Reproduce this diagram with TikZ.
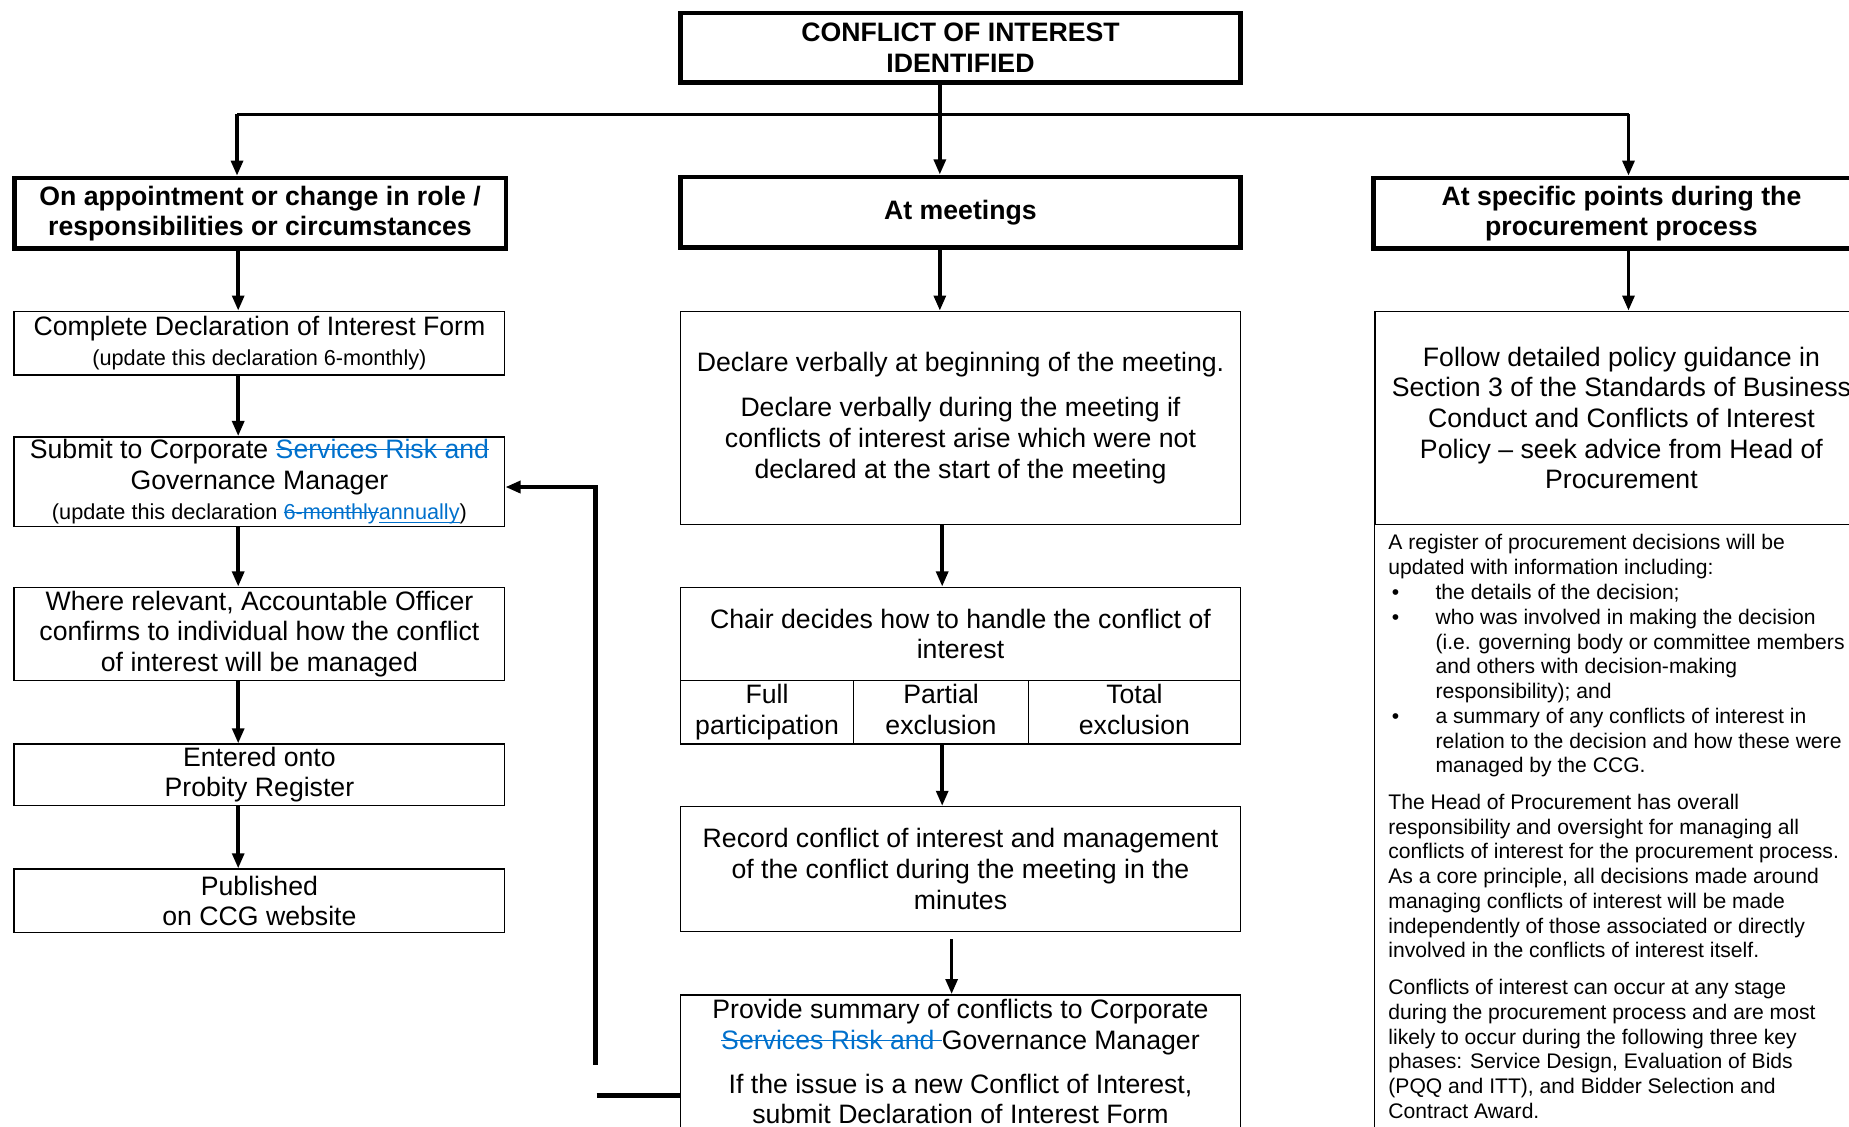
\documentclass[tikz,border=0pt]{standalone}
\usepackage{fontspec}
\setmainfont{Liberation Sans}
\usetikzlibrary{arrows.meta,calc,positioning}

\definecolor{editblue}{RGB}{0,112,204}
\newcommand{\boxfont}{\fontsize{11.3}{13}\selectfont}
\newcommand{\notefont}{\fontsize{9.2}{10.5}\selectfont}
\newcommand{\regfont}{\fontsize{8.95}{10.5}\selectfont}
\newlength{\editw}
\newcommand{\struck}[1]{\settowidth{\editw}{#1}{\color{editblue}\rlap{\rule[0.3em]{\editw}{0.5pt}}#1}}
\newcommand{\added}[1]{\settowidth{\editw}{#1}{\color{editblue}\rlap{\rule[-0.16em]{\editw}{0.5pt}}#1}}
\newcommand{\bitem}{\makebox[20pt][l]{\hspace{1.5pt}\textbullet}}
\newcommand{\bcont}{\hspace*{20pt}}

\tikzset{
  box/.style={draw, line width=0.6pt, align=center, inner sep=1pt, font=\boxfont},
  headbox/.style={box, line width=2pt, font=\boxfont\bfseries},
  flow/.style={line width=1.5pt, -{Triangle[width=5pt,length=6.4pt]}},
  bar/.style={line width=1.5pt},
}

\begin{document}
\begin{tikzpicture}[x=0.5pt,y=-0.5pt]
\useasboundingbox (0,0) rectangle (1568,955);

\node (title) [headbox, minimum width=237.5pt, minimum height=29.5pt] at (814.5,40.5) {CONFLICT OF INTEREST\\IDENTIFIED};

\node (appoint) [headbox, minimum width=208.5pt, minimum height=30pt] at (220.5,181) {On appointment or change in role /\\responsibilities or circumstances};
\node (meet) [headbox, minimum width=237.5pt, minimum height=30pt] at (814.5,180) {At meetings};
\node (proc) [headbox, minimum width=210pt, minimum height=30pt] at (1375,181) {At specific points during the\\procurement process};

% left column
\node (complete) [box, minimum width=208pt, minimum height=27pt] at (220,291) {Complete Declaration of Interest Form\\{\notefont (update this declaration 6-monthly)}};
\node (submit) [box, minimum width=208pt, minimum height=36.5pt] at (220,408.5) {Submit to Corporate \struck{Services Risk and}\\Governance Manager\\{\notefont (update this declaration \struck{6-monthly}\added{annually})}};
\node (where) [box, minimum width=208pt, minimum height=39.5pt] at (220,537.5) {Where relevant, Accountable Officer\\confirms to individual how the conflict\\of interest will be managed};
\node (entered) [box, minimum width=208pt, minimum height=26pt] at (220,657) {Entered onto\\Probity Register};
\node (published) [box, minimum width=208pt, minimum height=27pt] at (220,764) {Published\\on CCG website};

% middle column
\node (declare) [box, minimum width=237.5pt, minimum height=90.5pt] at (814.5,354.5) {Declare verbally at beginning of the meeting.\\[6pt]Declare verbally during the meeting if\\conflicts of interest arise which were not\\declared at the start of the meeting};
\node (chair) [box, minimum width=237.5pt, minimum height=39.5pt] at (814.5,537.5) {Chair decides how to handle the conflict of\\interest};
\node (full) [box, minimum width=73.5pt, minimum height=27pt] at (650.5,604) {Full\\participation};
\node (partial) [box, minimum width=74pt, minimum height=27pt] at (798,604) {Partial\\exclusion\vphantom{p}};
\node (total) [box, minimum width=90pt, minimum height=27pt] at (962,604) {Total\\exclusion\vphantom{p}};
\node (record) [box, minimum width=237.5pt, minimum height=53pt] at (814.5,737) {Record conflict of interest and management\\of the conflict during the meeting in the\\minutes};
\node (provide) [box, anchor=north, minimum width=237.5pt, inner ysep=2pt] at (814.5,843) {Provide summary of conflicts to Corporate\\\struck{Services Risk and }Governance Manager\\[5.5pt]If the issue is a new Conflict of Interest,\\submit Declaration of Interest Form\\[40pt]~};

% right column
\node (follow) [box, minimum width=209pt, minimum height=90.5pt] at (1375,354.5) {Follow detailed policy guidance in\\Section 3 of the Standards of Business\\Conduct and Conflicts of Interest\\Policy -- seek advice from Head of\\Procurement};
\draw [line width=0.6pt] (follow.south west) -- ++(0,560);
\node (register) [anchor=north west, align=left, inner sep=0pt, font=\regfont] at (1177,453) {A register of procurement decisions will be\\
updated with information including:\\
\bitem the details of the decision;\\
\bitem who was involved in making the decision\\
\bcont (i.e. governing body or committee members\\
\bcont and others with decision-making\\
\bcont responsibility); and\\
\bitem a summary of any conflicts of interest in\\
\bcont relation to the decision and how these were\\
\bcont managed by the CCG.\\[5pt]
The Head of Procurement has overall\\
responsibility and oversight for managing all\\
conflicts of interest for the procurement process.\\
As a core principle, all decisions made around\\
managing conflicts of interest will be made\\
independently of those associated or directly\\
involved in the conflicts of interest itself.\\[5pt]
Conflicts of interest can occur at any stage\\
during the procurement process and are most\\
likely to occur during the following three key\\
phases: Service Design, Evaluation of Bids\\
(PQQ and ITT), and Bidder Selection and\\
Contract Award.};

% connectors
\coordinate (busL) at (201,97);
\coordinate (busM) at (797,97);
\coordinate (busR) at (1381,97);
\draw [bar] (busL) -- (busR);
\draw [flow] (busL) -- (appoint.north -| busL);
\draw [flow] (title.south -| busM) -- (meet.north -| busM);
\draw [flow] (busR) -- (proc.north -| busR);
\draw [flow] (proc.south -| busR) -- (follow.north -| busR);

\coordinate (lx) at (202,0);
\foreach \a/\b in {appoint/complete,complete/submit,submit/where,where/entered,entered/published}
  \draw [flow] (\a.south -| lx) -- (\b.north -| lx);

\coordinate (mx) at (799,0);
\coordinate (rx) at (807,0);
\draw [flow] (meet.south -| busM) -- (declare.north -| busM);
\draw [flow] (declare.south -| mx) -- (chair.north -| mx);
\draw [flow] (partial.south -| mx) -- (record.north -| mx);
\draw [flow, shorten <=3pt] (record.south -| rx) -- (provide.north -| rx);

\coordinate (fbtop) at (505,413);
\coordinate (fbbot) at (505,903);
\coordinate (stub) at (506,929);
\draw [flow, line width=1.75pt] (fbbot) -- (fbtop) -- (submit.east |- fbtop);
\draw [line width=2pt] (stub) -- (provide.west |- stub);
\end{tikzpicture}
\end{document}
